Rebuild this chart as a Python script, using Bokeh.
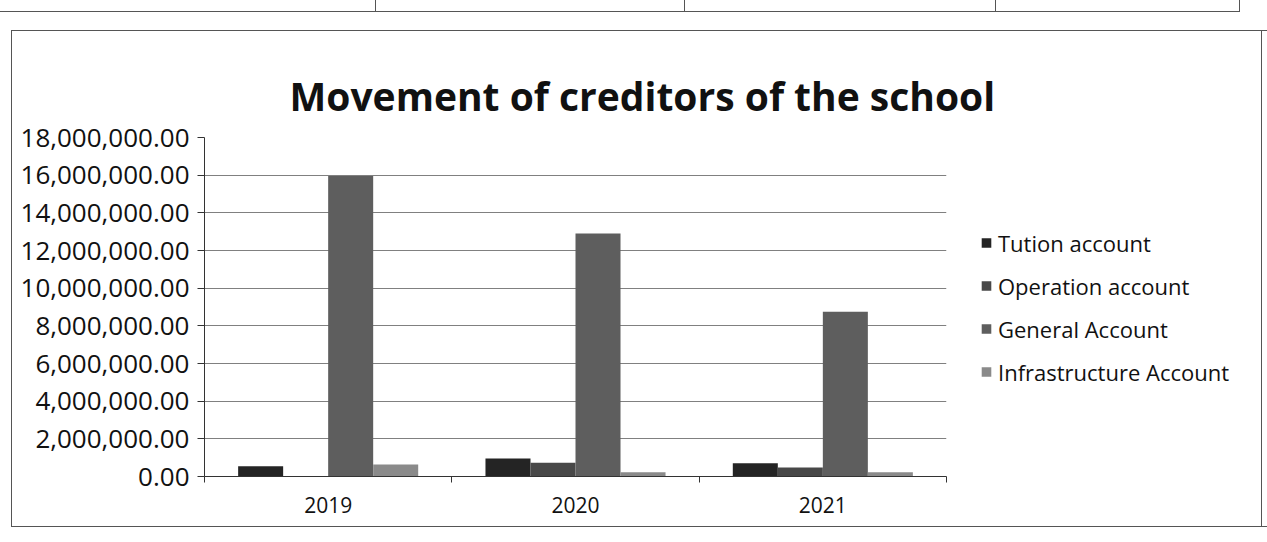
from bokeh.plotting import figure
from bokeh.models import (ColumnDataSource, Range1d, FixedTicker, NumeralTickFormatter,
                          Legend, LegendItem, Div)
from bokeh.layouts import column
from bokeh.transform import dodge
from bokeh.embed import file_html
from bokeh.resources import INLINE

# ---- data ----
years = ["2019", "2020", "2021"]
series_names = ["Tution account", "Operation account", "General Account", "Infrastructure Account"]
tution = [550000, 960000, 700000]
operation = [0, 730000, 480000]
general = [15950000, 12900000, 8750000]
infrastructure = [640000, 230000, 230000]
y_ticks = [0, 2000000, 4000000, 6000000, 8000000, 10000000, 12000000, 14000000, 16000000, 18000000]

colors = ["#242424", "#484848", "#5e5e5e", "#8a8a8a"]
FONT = "Open Sans"

xpos = [i + 0.5 for i in range(len(years))]
src = ColumnDataSource(dict(x=xpos, year=years, t=tution, o=operation, g=general, i=infrastructure))

p = figure(frame_width=740, frame_height=337, output_backend="svg", toolbar_location=None,
           x_range=Range1d(0, len(years)), y_range=Range1d(0, 18000000),
           min_border_left=192, min_border_right=0, min_border_top=106, min_border_bottom=52,
           margin=(16, 0, 0, 11),
           styles={"border": "1.5px solid #555555"})
p.outline_line_color = None
p.background_fill_color = "white"
p.border_fill_alpha = 0

p.title.text = "Movement of creditors of the school"
p.title.text_font = FONT
p.title.text_font_style = "bold"
p.title.text_font_size = "39px"
p.title.text_color = "#111111"
p.title.align = "left"
p.title.offset = 85
p.title.standoff = 31

bw = 0.182
offs = [-1.5 * bw, -0.5 * bw, 0.5 * bw, 1.5 * bw]
renderers = []
for key, off, c in zip(["t", "o", "g", "i"], offs, colors):
    r = p.vbar(x=dodge("x", off, range=p.x_range), top=key, width=bw, source=src,
               fill_color=c, line_color=None)
    renderers.append(r)

# axes
xa = p.xaxis[0]
xa.ticker = FixedTicker(ticks=xpos, minor_ticks=list(range(len(years) + 1)))
xa.major_label_overrides = {x: y for x, y in zip(xpos, years)}
xa.major_tick_line_color = None
xa.minor_tick_in = 0
xa.minor_tick_out = 6
xa.minor_tick_line_color = "#333333"
xa.axis_line_color = "#333333"
xa.major_label_text_font = FONT
xa.major_label_text_font_size = "21px"
xa.major_label_text_color = "#111111"
xa.major_label_standoff = 14

ya = p.yaxis[0]
ya.ticker = FixedTicker(ticks=y_ticks)
ya.formatter = NumeralTickFormatter(format="0,0.00")
ya.major_tick_in = 0
ya.major_tick_out = 7
ya.minor_tick_line_color = None
ya.axis_line_color = "#333333"
ya.major_tick_line_color = "#333333"
ya.major_label_text_font = FONT
ya.major_label_text_font_size = "26px"
ya.major_label_text_color = "#111111"
ya.major_label_standoff = 8

p.xgrid.grid_line_color = None
p.ygrid.grid_line_color = "#808080"
p.ygrid.grid_line_width = 1.2
p.ygrid.ticker = FixedTicker(ticks=y_ticks)

legend = Legend(items=[LegendItem(label=n, renderers=[r]) for n, r in zip(series_names, renderers)],
                location="center_left", label_text_font=FONT, label_text_font_size="22px",
                label_text_color="#111111", glyph_width=12, glyph_height=12,
                spacing=13, border_line_color=None, background_fill_alpha=0,
                label_standoff=6, padding=0, margin=34)
p.add_layout(legend, "right")

# table rule lines of the scanned page above the chart, plus the chart box's right edge
cells = "".join(
    '<div style="width:{}px;height:12px;border-right:1.5px solid #555555;border-bottom:1.5px solid #555555;"></div>'.format(w)
    for w in [378, 309, 311, 244])
right_edge = ('<div style="position:absolute;left:1261px;top:30px;width:0;height:497px;'
              'border-left:1.5px solid #555555;pointer-events:none;"></div>')
top_rules = Div(text='<div style="display:flex;margin-left:-2px;">' + cells + '</div>' + right_edge,
                width=1250, height=14, margin=(0, 0, 0, 0))

layout = column(top_rules, p, spacing=0)

open("out.html", "w").write(file_html(layout, INLINE))
